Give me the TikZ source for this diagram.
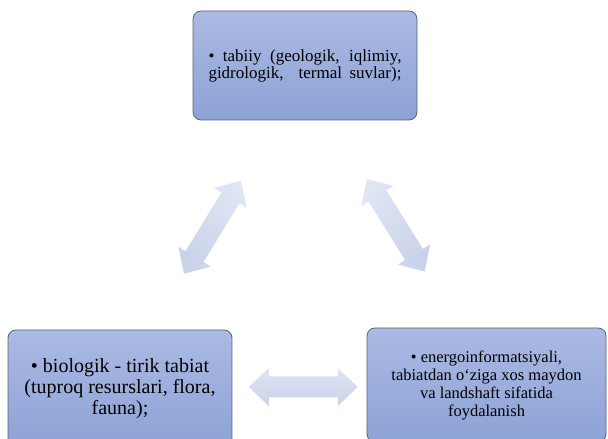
\documentclass[tikz,border=0pt]{standalone}
\usepackage{fontspec}
\setmainfont{Liberation Serif}
\usetikzlibrary{calc}

\definecolor{boxtop}{HTML}{ABBAE3}
\definecolor{boxbot}{HTML}{8DA2D6}
\definecolor{boxline}{HTML}{5B6275}
\definecolor{arrtop}{HTML}{E0E5F3}
\definecolor{arrbot}{HTML}{CAD2EA}

\begin{document}
\begin{tikzpicture}[x=1pt, y=1pt,
  blok/.style    = {draw=boxline, line width=0.8pt, rounded corners=8pt,
                    top color=boxtop, bottom color=boxbot,
                    align=center, inner sep=0pt},
  pics/dblarr/.style = {code={
    \shade[rotate=#1, top color=arrtop, bottom color=arrbot, shading angle=-#1]
      (-54.5,0) -- (-34.5,19) -- (-34.5,10.5) -- (34.5,10.5) -- (34.5,19)
      -- (54.5,0) -- (34.5,-19) -- (34.5,-10.5) -- (-34.5,-10.5)
      -- (-34.5,-19) -- cycle;
  }}
]
\useasboundingbox (0,0) rectangle (608,439);

% ---- the three boxes ----
\node[blok, minimum width=224, minimum height=109,
      font=\fontsize{17}{17}\selectfont] (tabiiy) at (305,373.5)
  {\makebox[193pt][s]{• tabiiy (geologik, iqlimiy,}\\
   \makebox[193pt][s]{gidrologik,\ \ termal suvlar);}};

\node[blok, minimum width=224, minimum height=118,
      font=\fontsize{20}{21}\selectfont] (biologik) at (120,50)
  {• biologik - tirik tabiat\\(tuproq resurslari, flora,\\fauna);};

\node[blok, minimum width=239, minimum height=114,
      font=\fontsize{16.5}{18}\selectfont] (energo) at (486.5,54)
  {• energoinformatsiyali,\\tabiatdan o‘ziga xos maydon\\va landshaft sifatida\\foydalanish};

% ---- double arrows between them ----
\pic at ($(tabiiy)!0.5!(biologik)$) {dblarr=58.5};
\pic at ($(tabiiy)!0.5!(energo)$)   {dblarr=-58};
\pic at ($(biologik)!0.5!(energo)$) {dblarr=0};

\end{tikzpicture}
\end{document}
